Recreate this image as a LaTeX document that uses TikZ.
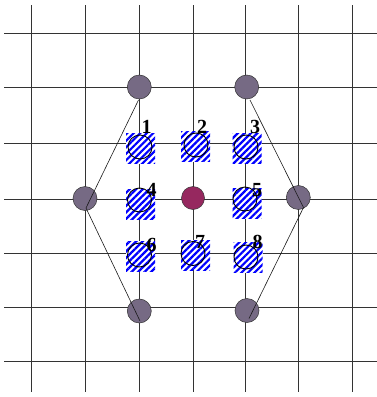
\documentclass[tikz,border=0pt]{standalone}
\usepackage{fontspec}
\setmainfont{Liberation Serif}
\usetikzlibrary{patterns.meta}
\definecolor{dotgray}{RGB}{118,106,132}
\definecolor{dotred}{RGB}{150,40,95}
\tikzset{
  gridline/.style={draw=black!80, line width=0.8pt},
  bigdot/.style={circle, draw=black!80, line width=0.5pt, fill=dotgray, minimum size=24pt, inner sep=0pt},
  reddot/.style={circle, draw=black!80, line width=0.5pt, fill=dotred, minimum size=23pt, inner sep=0pt},
  hatchbox/.style={rectangle, fill=white, minimum width=29pt, minimum height=30pt, inner sep=0pt,
     postaction={pattern={Lines[angle=45,distance=4.6pt,line width=2.2pt]}, pattern color=blue}},
  ring/.style={circle, draw=black, line width=0.9pt, minimum size=24pt, inner sep=0pt},
  edge/.style={draw=black!90, line width=0.6pt},
  num/.style={font=\fontsize{20}{20}\selectfont\bfseries, inner sep=0pt}
}
\begin{document}
\begin{tikzpicture}[x=1pt,y=-1pt]
\useasboundingbox (0,0) rectangle (377,397);
% grid
\foreach \gx in {31,85,139,193,245.5,298,352} {\draw[gridline] (\gx,5) -- (\gx,392);}
\foreach \gy in {33,87,143,199,253,307,361} {\draw[gridline] (4,\gy) -- (377,\gy);}
% hatched squares
\node[hatchbox] (s1) at (140.5,148.7) {};
\node[hatchbox] (s2) at (195.5,146.5) {};
\node[hatchbox] (s3) at (247,148.7) {};
\node[hatchbox] (s4) at (140.5,204) {};
\node[hatchbox] (s5) at (247,203.5) {};
\node[hatchbox] (s6) at (140.5,256) {};
\node[hatchbox] (s7) at (195.5,255) {};
\node[hatchbox] (s8) at (248,257.5) {};
% rings
\node[ring] (r1) at (140,147) {};
\node[ring] (r2) at (196,145) {};
\node[ring] (r3) at (246,147) {};
\node[ring] (r4) at (139.5,200) {};
\node[ring] (r5) at (245,199) {};
\node[ring] (r6) at (139.5,255) {};
\node[ring] (r7) at (193,253.5) {};
\node[ring] (r8) at (246,257) {};
% dots
\node[bigdot] (tl) at (139.3,87) {};
\node[bigdot] (tr) at (246.7,87) {};
\node[bigdot] (ml) at (85,198.5) {};
\node[bigdot] (mr) at (298.3,197.5) {};
\node[bigdot] (bl) at (139.3,311) {};
\node[bigdot] (br) at (247,310.5) {};
\node[reddot] (c) at (193,198) {};
% line end points
\coordinate (tla) at (138.5,100);
\coordinate (mla) at (86,208);
\coordinate (bla) at (140,321);
\coordinate (tra) at (250,100);
\coordinate (mra) at (303.5,207.5);
\coordinate (bra) at (249,318.5);
\draw[edge] (tla) -- (mla) -- (bla);
\draw[edge] (tra) -- (mra) -- (bra);
% labels
\node[num] (n1) at (146.7,127) {1};
\node[num] (n2) at (202,127) {2};
\node[num] (n3) at (255,127) {3};
\node[num] (n4) at (151.7,190) {4};
\node[num] (n5) at (257,190) {5};
\node[num] (n6) at (151.7,245) {6};
\node[num] (n7) at (200,242) {7};
\node[num] (n8) at (257.7,242) {8};
\end{tikzpicture}
\end{document}
